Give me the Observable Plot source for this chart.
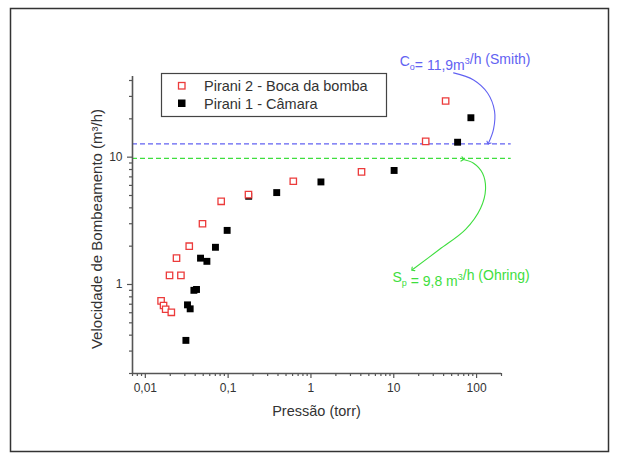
<!DOCTYPE html>
<html>
<head>
<meta charset="utf-8">
<script src="https://cdn.jsdelivr.net/npm/d3@7"></script>
<script src="https://cdn.jsdelivr.net/npm/@observablehq/plot@0.6"></script>
<style>
  html, body { margin: 0; padding: 0; background: #fff; }
</style>
</head>
<body>
<div id="chart"></div>
<script>
// ---- data ----
const pirani2P = [0.0155, 0.0166, 0.0176, 0.0206, 0.0196, 0.0269, 0.0238, 0.0339, 0.049, 0.0824, 0.176, 0.612, 4.08, 24.3, 42.3];
const pirani2V = [0.744, 0.684, 0.639, 0.605, 1.18, 1.18, 1.61, 2.0, 3.0, 4.5, 5.08, 6.47, 7.66, 13.3, 27.6];
const pirani1P = [0.0309, 0.0323, 0.0348, 0.0386, 0.0415, 0.0464, 0.0554, 0.0703, 0.0973, 0.177, 0.386, 1.32, 10.1, 59.0, 85.4];
const pirani1V = [0.364, 0.692, 0.644, 0.90, 0.914, 1.61, 1.52, 1.96, 2.66, 4.93, 5.27, 6.39, 7.86, 13.1, 20.4];
const seriesNames = ["Pirani 2 - Boca da bomba", "Pirani 1 - Câmara"];

const refValues = [12.7, 9.8];           // dashed reference lines
const refNames = ["Smith", "Ohring"];

// annotation arrows (data coordinates)
const smithArrowP = [52.8, 92.0, 135.7, 164.8, 160.3, 139.5];
const smithArrowV = [45.9, 40.4, 31.9, 23.0, 16.6, 12.9];
const ohringArrowP = [67.8, 92.0, 118.1, 128.3, 111.8, 73.7, 35.8, 16.9];
const ohringArrowV = [9.64, 8.97, 7.48, 5.60, 3.97, 2.71, 1.89, 1.31];
const smithLabelPos = [73.7, 51.1];
const ohringLabelPos = [65.9, 1.04];

// axes
const xMajor = [0.01, 0.1, 1, 10, 100];
const xLabels = ["0,01", "0,1", "1", "10", "100"];
const yMajor = [1, 10];
const yLabels = ["1", "10"];
const xDomain = [0.007, 200];
const yDomain = [0.2, 43];

function minorTicks(lo, hi) {
  const out = [];
  for (let e = -3; e <= 3; e++) {
    for (let m = 2; m <= 9; m++) {
      const v = +(m * Math.pow(10, e)).toPrecision(3);
      if (v >= lo * 0.999 && v <= hi * 1.001) out.push(v);
    }
  }
  return out;
}
const xMinor = minorTicks(xDomain[0], xDomain[1]);
const yMinor = minorTicks(yDomain[0], yDomain[1]);
const xLabelMap = new Map(xMajor.map((d, i) => [d, xLabels[i]]));
const yLabelMap = new Map(yMajor.map((d, i) => [d, yLabels[i]]));

// ---- tables ----
const pirani2 = pirani2P.map((p, i) => ({p, v: pirani2V[i]}));
const pirani1 = pirani1P.map((p, i) => ({p, v: pirani1V[i]}));
const refs = refValues.map((v, i) => ({v, name: refNames[i]}));
const smithArrow = smithArrowP.map((p, i) => ({p, v: smithArrowV[i]}));
const ohringArrow = ohringArrowP.map((p, i) => ({p, v: ohringArrowV[i]}));

const BLUE = "#6262f2";
const GREEN = "#3ede3e";
const RED = "#ec3b3b";
const AXIS = "#555";
const TEXT = "#333";
const FONT = "'Liberation Sans', Arial, Helvetica, sans-serif";

const chart = Plot.plot({
  width: 619,
  height: 461,
  marginLeft: 132,
  marginRight: 118,
  marginTop: 76,
  marginBottom: 88,
  style: {fontFamily: FONT, background: "#fff", color: TEXT, overflow: "visible"},
  x: {type: "log", domain: xDomain},
  y: {type: "log", domain: yDomain},
  marks: [
    Plot.ruleY([refs[0]], {y: "v", x1: xDomain[0], x2: 262, stroke: BLUE, strokeWidth: 1.2, strokeDasharray: "5,3"}),
    Plot.ruleY([refs[1]], {y: "v", x1: xDomain[0], x2: 262, stroke: GREEN, strokeWidth: 1.2, strokeDasharray: "5,3"}),
    Plot.ruleY([yDomain[0]], {stroke: AXIS, strokeWidth: 1.6}),
    Plot.ruleX([xDomain[0]], {stroke: AXIS, strokeWidth: 1.6}),
    Plot.axisX(xMajor, {tickSize: 5, tickPadding: 5, tickFormat: d => xLabelMap.get(d), fontSize: 12, stroke: AXIS, strokeWidth: 1.2, label: null}),
    Plot.axisX(xMinor, {tickSize: 3, tickFormat: () => "", stroke: AXIS, strokeWidth: 1.2, label: null}),
    Plot.axisY(yMajor, {tickSize: 5, tickPadding: 5, tickFormat: d => yLabelMap.get(d), fontSize: 12, stroke: AXIS, strokeWidth: 1.2, label: null}),
    Plot.axisY(yMinor, {tickSize: 3, tickFormat: () => "", stroke: AXIS, strokeWidth: 1.2, label: null}),
    Plot.dot(pirani1, {x: "p", y: "v", symbol: "square", r: 3.9, fill: "#000"}),
    Plot.dot(pirani2, {x: "p", y: "v", symbol: "square", r: 3.6, fill: "#fff", stroke: RED, strokeWidth: 1.3}),
    Plot.line(smithArrow, {x: "p", y: "v", curve: "catmull-rom", stroke: BLUE, strokeWidth: 1.1, markerEnd: "arrow"}),
    Plot.line(ohringArrow, {x: "p", y: "v", curve: "catmull-rom", stroke: GREEN, strokeWidth: 1.1, markerStart: "arrow", markerEnd: "arrow"})
  ]
});

document.getElementById("chart").appendChild(chart);

const svg = d3.select(chart);
const sx = chart.scale("x"), sy = chart.scale("y");

// axis titles
svg.append("text")
  .attr("x", (132 + 501) / 2).attr("y", 416)
  .attr("text-anchor", "middle")
  .attr("font-size", 14.5).attr("fill", TEXT).attr("font-family", FONT)
  .text("Pressão (torr)");
svg.append("text")
  .attr("transform", `translate(102,229) rotate(-90)`)
  .attr("text-anchor", "middle")
  .attr("font-size", 15).attr("fill", TEXT).attr("font-family", FONT)
  .text("Velocidade de Bombeamento (m³/h)");

// annotation labels with sub/superscripts
function richLabel(pos, parts, color) {
  const t = svg.append("text")
    .attr("x", sx.apply(pos[0])).attr("y", sy.apply(pos[1]))
    .attr("text-anchor", "middle")
    .attr("font-size", 14).attr("fill", color).attr("font-family", FONT);
  for (const [txt, kind] of parts) {
    if (kind === "sub") {
      t.append("tspan").attr("dy", 4).attr("font-size", 9).text(txt);
      t.append("tspan").attr("dy", -4).text("");
    } else if (kind === "sup") {
      t.append("tspan").attr("dy", -6).attr("font-size", 9).text(txt);
      t.append("tspan").attr("dy", 6).text("");
    } else {
      t.append("tspan").text(txt);
    }
  }
}
richLabel(smithLabelPos, [["C"], ["o", "sub"], ["= 11,9m"], ["3", "sup"], ["/h (Smith)"]], BLUE);
richLabel(ohringLabelPos, [["S"], ["p", "sub"], [" = 9,8 m"], ["3", "sup"], ["/h (Ohring)"]], GREEN);

// legend box
const lg = svg.append("g").attr("font-family", FONT).attr("text-anchor", "start");
lg.append("rect").attr("x", 161.5).attr("y", 73.5).attr("width", 225).attr("height", 43)
  .attr("fill", "#fff").attr("stroke", "#444").attr("stroke-width", 1.2);
lg.append("rect").attr("x", 178.5).attr("y", 82.5).attr("width", 6.5).attr("height", 6.5)
  .attr("fill", "#fff").attr("stroke", RED).attr("stroke-width", 1.3);
lg.append("rect").attr("x", 178).attr("y", 99.5).attr("width", 7.5).attr("height", 7.5).attr("fill", "#000");
lg.append("text").attr("x", 204).attr("y", 91).attr("font-size", 14.5).attr("fill", TEXT).text(seriesNames[0]);
lg.append("text").attr("x", 204).attr("y", 108.5).attr("font-size", 14.5).attr("fill", TEXT).text(seriesNames[1]);

// outer frame
svg.append("rect").attr("x", 10.5).attr("y", 8.5).attr("width", 598).attr("height", 443)
  .attr("fill", "none").attr("stroke", "#333").attr("stroke-width", 1.5);
</script>
</body>
</html>
